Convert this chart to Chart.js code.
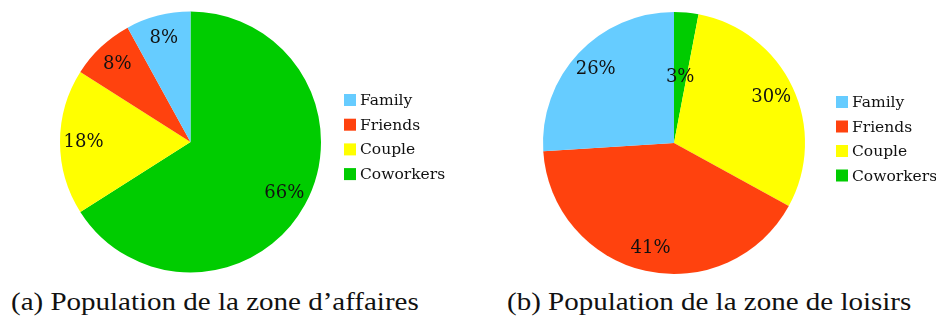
<!DOCTYPE html>
<html>
<head>
<meta charset="utf-8">
<script src="https://cdn.jsdelivr.net/npm/chart.js@4.4.1/dist/chart.umd.min.js"></script>
<style>
  html, body { margin: 0; padding: 0; background: #fff; }
  body { width: 936px; height: 320px; position: relative; overflow: hidden; }
  .pane { position: absolute; top: 0; width: 468px; height: 285px; }
  .caption {
    position: absolute; top: 289px; white-space: nowrap;
    font-family: "Liberation Serif", serif; font-size: 25px; line-height: 25px;
    color: #111; transform-origin: left top; transform: scaleX(1.16);
  }
</style>
</head>
<body>
<div class="pane" style="left:0"><canvas id="pieA"></canvas></div>
<div class="pane" style="left:468px"><canvas id="pieB"></canvas></div>
<div class="caption" style="left:11px">(a) Population de la zone d’affaires</div>
<div class="caption" style="left:507px">(b) Population de la zone de loisirs</div>

<script>
// Categories and shares (percent) for both zones
const categories = ['Family', 'Friends', 'Couple', 'Coworkers'];
const businessZone = [8, 8, 18, 66];
const leisureZone = [26, 41, 30, 3];
const categoryColors = ['#66ccff', '#ff420e', '#ffff00', '#00cc00'];

const labelFont = '18px "DejaVu Serif", serif';
const legendFont = '15.5px "DejaVu Serif", serif';

// Slices run counter-clockwise from 12 o'clock: feed Chart.js the reversed order,
// the legend below lists categories in their natural order.
const rev = a => a.slice().reverse();

// Percent labels placed along each slice's mid-angle
const sliceLabels = {
  id: 'sliceLabels',
  afterDatasetsDraw(chart) {
    const ctx = chart.ctx;
    const meta = chart.getDatasetMeta(0);
    const values = chart.data.datasets[0].data;
    ctx.save();
    ctx.font = labelFont;
    ctx.fillStyle = '#111';
    ctx.textAlign = 'center';
    ctx.textBaseline = 'middle';
    meta.data.forEach((arc, i) => {
      const p = arc.getProps(['x', 'y', 'startAngle', 'endAngle', 'outerRadius'], true);
      const mid = (p.startAngle + p.endAngle) / 2;
      const f = values[i] < 5 ? 0.5 : 0.82;
      ctx.fillText(values[i] + '%', p.x + Math.cos(mid) * p.outerRadius * f,
                   p.y + Math.sin(mid) * p.outerRadius * f);
    });
    ctx.restore();
  }
};

// Legend column to the right of the pie
const sideLegend = {
  id: 'sideLegend',
  afterDraw(chart, args, opts) {
    const ctx = chart.ctx;
    const labels = chart.data.labels;
    const colors = chart.data.datasets[0].backgroundColor;
    ctx.save();
    ctx.font = legendFont;
    ctx.textBaseline = 'middle';
    ctx.textAlign = 'left';
    for (let k = 0; k < labels.length; k++) {
      const i = labels.length - 1 - k;
      const y = opts.y + k * opts.gap;
      ctx.fillStyle = colors[i];
      ctx.fillRect(opts.x, y - 6, 12, 12);
      ctx.fillStyle = '#111';
      ctx.fillText(labels[i], opts.x + 16, y + 1);
    }
    ctx.restore();
  }
};

function makePie(id, values, padding, legendPos) {
  return new Chart(document.getElementById(id), {
    type: 'pie',
    data: {
      labels: rev(categories),
      datasets: [{
        data: rev(values),
        backgroundColor: rev(categoryColors),
        borderWidth: 0
      }]
    },
    options: {
      responsive: true,
      maintainAspectRatio: false,
      animation: false,
      layout: { padding },
      plugins: {
        legend: { display: false },
        tooltip: { enabled: false },
        sideLegend: legendPos
      }
    },
    plugins: [sliceLabels, sideLegend]
  });
}

makePie('pieA', businessZone, { left: 60, right: 147, top: 11, bottom: 12 },
        { x: 344, y: 100, gap: 24.7 });
makePie('pieB', leisureZone, { left: 75, right: 131, top: 12, bottom: 11 },
        { x: 368, y: 102, gap: 24.5 });
</script>
</body>
</html>
